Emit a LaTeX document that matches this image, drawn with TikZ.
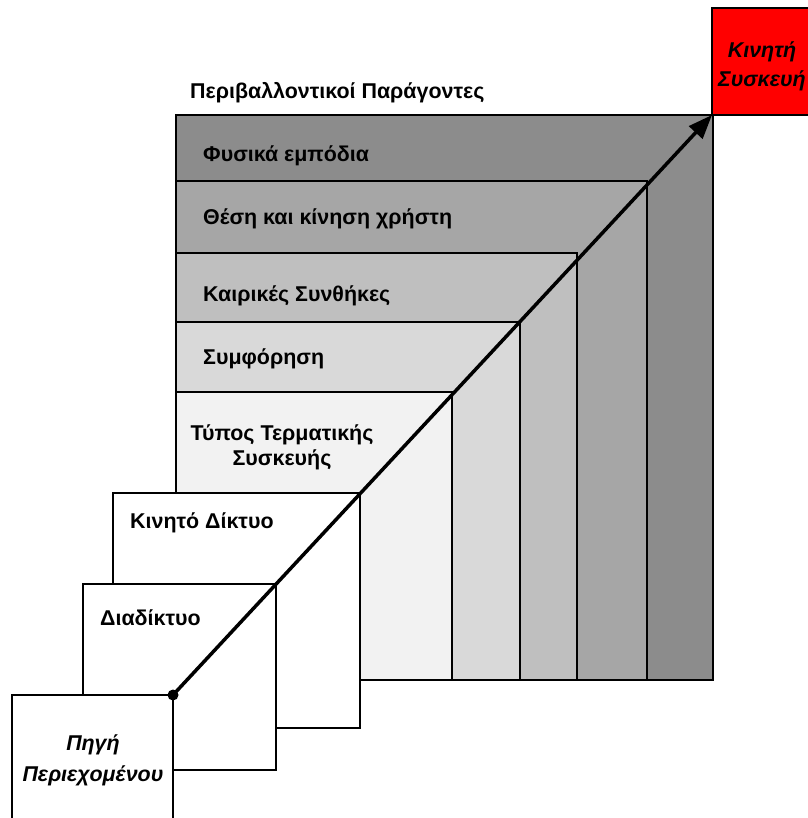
\documentclass[tikz,border=0pt]{standalone}
\usepackage{fontspec}
\setmainfont{Liberation Sans}
\usetikzlibrary{arrows.meta,calc}
\definecolor{gA}{HTML}{8C8C8C}
\definecolor{gB}{HTML}{A6A6A6}
\definecolor{gC}{HTML}{BFBFBF}
\definecolor{gD}{HTML}{D9D9D9}
\definecolor{gE}{HTML}{F2F2F2}
\definecolor{devred}{HTML}{FF0000}
\begin{document}
\begin{tikzpicture}[x=1bp,y=-1bp,
  box/.style={draw=black, line width=1.6bp, anchor=north west, inner sep=0pt, outer sep=0pt},
  lbl/.style={font=\bfseries\fontsize{21.5}{25}\selectfont, anchor=base west, inner sep=0pt},
  lblc/.style={font=\bfseries\fontsize{21.5}{25}\selectfont, anchor=base, inner sep=0pt},
  ilbl/.style={font=\bfseries\itshape\fontsize{21.5}{25}\selectfont, anchor=base, inner sep=0pt},
  flow/.style={line width=3.5bp, -{Triangle[length=24bp,width=18bp]}}]
\useasboundingbox (0,0) rectangle (808,818);
% environmental factors, nested
\node[box, fill=gA, minimum width=537bp, minimum height=565bp] (phys) at (176,115) {};
\node[box, fill=gB, minimum width=471bp, minimum height=499bp] (pos) at (176,181) {};
\node[box, fill=gC, minimum width=401bp, minimum height=427bp] (weat) at (176,253) {};
\node[box, fill=gD, minimum width=344bp, minimum height=358bp] (cong) at (176,322) {};
\node[box, fill=gE, minimum width=276bp, minimum height=288bp] (term) at (176,392) {};
% network boxes
\node[box, fill=white, minimum width=247bp, minimum height=235bp] (mob) at (113,493) {};
\node[box, fill=white, minimum width=193bp, minimum height=186bp] (inet) at (83,584) {};
\node[box, fill=white, minimum width=161bp, minimum height=140bp] (src) at (12,695) {};
% device
\node[box, fill=devred, minimum width=106bp, minimum height=107bp] (dev) at (712,8) {};
% labels
\node[lbl] (ttl) at ($(phys.north west)+(14,-17)$) {Περιβαλλοντικοί Παράγοντες};
\node[lbl] (tphys) at ($(phys.north west)+(27,46)$) {Φυσικά εμπόδια};
\node[lbl] (tpos) at ($(pos.north west)+(27,43)$) {Θέση και κίνηση χρήστη};
\node[lbl] (tweat) at ($(weat.north west)+(27,48)$) {Καιρικές Συνθήκες};
\node[lbl] (tcong) at ($(cong.north west)+(27,42)$) {Συμφόρηση};
\node[lblc] (tterm1) at ($(term.north west)+(106,48)$) {Τύπος Τερματικής};
\node[lblc] (tterm2) at ($(term.north west)+(106,73)$) {Συσκευής};
\node[lbl] (tmob) at ($(mob.north west)+(17,35)$) {Κινητό Δίκτυο};
\node[lbl] (tinet) at ($(inet.north west)+(17,41)$) {Διαδίκτυο};
\node[ilbl] (tsrc1) at ($(src.north west)+(81,55)$) {Πηγή};
\node[ilbl] (tsrc2) at ($(src.north west)+(81,86)$) {Περιεχομένου};
\node[ilbl] (tdev1) at ($(dev.north west)+(50,50)$) {Κινητή};
\node[ilbl] (tdev2) at ($(dev.north west)+(50,78)$) {Συσκευή};
% flow
\node[circle, fill=black, inner sep=0pt, minimum size=11bp] (dot) at (src.north east) {};
\draw[flow] (dot.center) -- (dev.south west);
\end{tikzpicture}
\end{document}
